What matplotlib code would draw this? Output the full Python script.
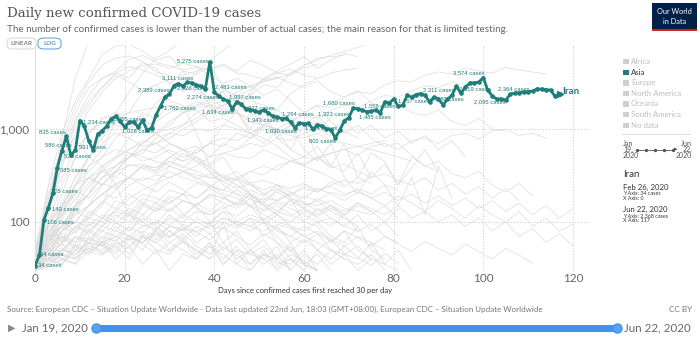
import numpy as np
import matplotlib
matplotlib.use("Agg")
import matplotlib.pyplot as plt
from matplotlib.patches import FancyBboxPatch, Rectangle

# Iran, daily new confirmed cases, day 0 = Feb 26 2020 (first day with 30+)
iran_cases = [
    34, 44, 106, 143, 205, 385, 586, 835, 523, 591,
    1234, 1076, 743, 595, 881, 958, 1075, 1289, 1365, 1209,
    1053, 1178, 1192, 1046, 1237, 966, 1028, 1411, 1762, 2206,
    2389, 2926, 3076, 2901, 3186, 3111, 2987, 2875, 2715, 5275,
    2483, 2274, 2089, 1997, 1634, 1972, 1837, 1657, 1617, 1574,
    1512, 1606, 1499, 1374, 1343, 1294, 1297, 1194, 1030, 1168,
    1134, 1153, 991, 1112, 1073, 1006, 976, 802, 976, 1223,
    1323, 1680, 1650, 1600, 1529, 1556, 1600, 1485, 1958, 1900,
    2102, 1757, 1790, 2294, 2200, 2346, 2400, 2300, 1965, 2200,
    2100, 1820, 2080, 2311, 2886, 2420, 2819, 3117, 3134, 3200,
    3574, 2596, 2269, 2095, 2100, 2043, 2364, 2430, 2450, 2500,
    2520, 2560, 2700, 2680, 2650, 2614, 2250, 2368]

# which points get a "N cases" label, and where the text sits (pixels from the point)
label_days = [0, 1, 2, 3, 4, 5, 6, 7, 8, 9, 10, 18, 26, 28, 30, 31, 35, 39, 40, 41,
              43, 44, 46, 54, 55, 58, 60, 67, 70, 71, 75, 77, 81, 92, 93, 96, 100, 103, 106]
label_dx = [3, 1, 3, 3.6, -2, 2.6, -17, -27.4, -7, 3.7, 3.2, -2.5, -29.6, 3, -31.5, 3, -29.9, -32.8, 0.7, -31.8,
            1.7, -30.3, 1.8, -30.1, 0.9, -30, 1, -26.4, -30.8, -30.3, -7.2, -21.2, 0, -15.4, -28.9, -6.4, -30.3, -22.7, -12.2]
label_dy = [0, 1, -2.4, -2.4, 2, -2.5, 4.6, 3.3, -1.5, 3.2, -1.5, -2.6, -3.1, -1.9, 3.8, -2.4, 5.2, 0.8, 5.3, -1.2,
            4.1, -2.8, -3.6, -2.2, 4.6, -3.2, -4.1, -3.1, 4.4, 5, 5.2, -4, 5.2, 0.4, 5.2, -1.9, 4.6, -2.9, 5.3]

# other countries, one value every 3 days from day 0
gray_step = 3
other_countries = [
    [45, 180, 560, 1250, 2300, 3500, 4200, 5600, 6200, 5200, 4800, 4300, 4600, 3800, 3100, 3500, 2900, 2300, 2700,
     2000, 1500, 1800, 1200, 900, 1100, 800, 650, 700, 520, 400, 450, 330, 300, 350, 250, 210, 260, 190],
    [35, 250, 900, 2000, 3500, 6300, 7800, 8100, 6900, 5500, 6100, 4200, 3900, 4700, 2900, 1900, 2400, 1300, 800,
     1100, 600, 450, 700, 300, 200, 350, 250, 150, 300, 120, 400, 180],
    [40, 160, 700, 1800, 3200, 4900, 5800, 6100, 5300, 4100, 3800, 2500, 3000, 1800, 1400, 1600, 900, 700, 950,
     600, 500, 650, 400, 350, 550, 300, 420, 250, 380, 600, 350],
    [30, 120, 400, 1100, 1800, 2800, 4000, 3500, 5200, 4500, 3000, 4200, 2800, 2100, 2500, 1500, 1000, 1600, 800,
     600, 1100, 500, 400, 700, 300, 550, 450, 250, 500, 400, 350],
    [45, 150, 400, 900, 1600, 2500, 3500, 4200, 4800, 5000, 4500, 5100, 4700, 4300, 4800, 4000, 3800, 3400, 3600,
     3100, 2800, 3300, 2500, 2200, 2600, 1900, 1700, 2000, 1500, 1400, 1600, 1200, 1100, 1300, 1000, 950],
    [30, 60, 90, 75, 110, 150, 350, 500, 550, 800, 900, 1100, 1300, 1600, 1800, 2300, 2600, 3300, 3500, 3900,
     4800, 5500, 6200, 6800, 7500, 8500, 9500, 11000],
    [35, 60, 150, 250, 350, 500, 800, 1100, 1200, 1900, 2500, 3000, 4000, 5500, 7000, 9000, 12000],
    [30, 90, 160, 300, 500, 900, 1500, 2500, 4000, 5800, 7000, 9000, 10500, 11000],
    [30, 45, 80, 130, 200, 300, 400, 500, 700, 900, 1200, 1500, 1800, 2100, 2600, 3000, 2800, 3400, 4000, 3800,
     4500, 5000],
    [35, 70, 90, 150, 400, 600, 1200, 1500, 2500, 3000, 3400, 3800, 4200, 4500, 5000, 4200, 5500, 4800, 4000,
     4400, 3800, 3500],
    [40, 70, 150, 250, 300, 350, 400, 550, 450, 500, 600, 500, 550, 700, 1100, 1500, 2500, 3500, 4200, 5000,
     6000, 4500, 5500, 6500, 6000],
    [40, 100, 150, 200, 300, 250, 350, 500, 600, 700, 800, 1000, 1200, 1500, 1800, 2100, 2300, 3000, 2800, 4000,
     4800, 5800, 6000, 6200],
    [30, 80, 120, 150, 200, 400, 500, 800, 1100, 1200, 1500, 1700, 1800, 1900, 2600, 2300, 2000, 1800, 1600,
     2400, 3000, 3500, 4000, 4300, 4500],
    [40, 60, 140, 200, 300, 400, 500, 600, 700, 900, 1000, 1100, 1500, 1800, 2000, 2500, 2900, 3200, 3500],
    [50, 250, 600, 1500, 2800, 3500, 4000, 4700, 4300, 3800, 3200, 2800, 2500, 2200, 1700, 1500, 1200, 1100,
     1000, 900, 1000, 1200, 1000, 1100],
    [30, 150, 800, 3500, 9000, 15000],
    [35, 100, 250, 500, 900, 1300, 1400, 1500, 1600, 1700, 1800, 1500, 1600, 1200, 1300, 1100, 900, 800, 650,
     500, 400, 350, 300, 250],
    [35, 90, 200, 500, 900, 1300, 1500, 1200, 1400, 900, 700, 600, 500, 350, 300, 250, 200, 150, 120, 90, 80,
     100, 70, 60, 90, 50, 40],
    [40, 150, 300, 600, 900, 1200, 1100, 1000, 1200, 900, 700, 600, 450, 400, 300, 250, 200, 150, 120, 180, 100,
     90, 60, 80, 50, 40],
    [40, 100, 60, 150, 200, 300, 400, 500, 600, 550, 700, 600, 650, 500, 700, 600, 800, 1000, 900, 1100, 1200,
     1000, 1300],
    [35, 50, 80, 100, 150, 250, 350, 500, 700, 900, 1100, 1500, 1700, 1800, 1600, 1500, 1300, 1100, 1000],
    [30, 55, 80, 120, 150, 200, 180, 250, 300, 280, 350, 300, 270, 250, 220, 200, 180, 150, 160, 140, 120, 100,
     110, 90, 80, 95, 70, 60],
    [40, 70, 90, 140, 200, 300, 350, 400, 420, 380, 450, 400, 350, 300, 320, 280, 250, 200, 230, 180, 160, 150,
     170, 140, 130, 120, 150, 110],
    [35, 40, 60, 90, 110, 100, 130, 180, 220, 260, 300, 350, 400, 500, 550, 600, 700, 650, 800, 750, 900, 1000,
     850, 950, 800],
    [30, 50, 45, 70, 65, 90, 120, 100, 150, 130, 160, 200, 180, 240, 220, 300, 350, 320, 400, 450, 420, 500, 550,
     600, 650, 700, 750],
    [50, 90, 150, 250, 400, 500, 600, 550, 500, 450, 400, 350, 300, 250, 200, 180, 150, 120, 100, 90, 70, 60, 50,
     40, 35, 45, 30],
    [30, 40, 35, 50, 60, 55, 80, 70, 90, 85, 110, 100, 130, 120, 140, 160, 150, 180, 170, 200, 230, 210, 250,
     280, 260, 300],
    [45, 60, 100, 80, 130, 110, 170, 150, 200, 180, 160, 200, 140, 120, 150, 100, 90, 110, 80, 70, 60, 75, 50,
     45, 40, 60, 35, 50, 30],
    [35, 80, 120, 200, 300, 250, 350, 300, 400, 350, 450, 380, 500, 420, 550, 500, 480, 600, 520, 450, 400, 500,
     380, 420, 350, 300, 330, 280, 250, 300, 220, 260, 200, 240, 180, 230, 170],
    [30, 45, 70, 60, 100, 90, 140, 120, 180, 160, 220, 200, 260, 240, 300, 280, 350, 400, 360, 450, 500, 470,
     550, 600, 520, 650, 700, 600, 750, 800, 700, 850, 900, 780, 950, 1000, 850, 900, 800],
    [30, 40, 35, 50, 45, 60, 40, 55, 35, 50, 30, 45, 40, 60, 35, 50, 45, 40, 55, 30, 45, 35, 50, 40],
    [35, 55, 70, 50, 80, 60, 90, 70, 60, 80, 50, 70, 45, 60, 40, 55, 35, 50, 30, 40, 35, 30],
    [32, 45, 60, 40, 70, 55, 45, 65, 50, 80, 60, 75, 55, 45, 60, 40, 50, 35, 45, 30],
    [40, 60, 80, 100, 90, 120, 100, 80, 110, 90, 70, 85, 60, 75, 50, 65, 45, 55, 40, 35, 50, 30],
    [30, 35, 45, 40, 55, 50, 65, 45, 70, 60, 80, 65, 90, 75, 100, 85, 110, 95, 120, 100, 130, 115, 140, 120,
     150, 130],
    [45, 70, 55, 90, 75, 110, 95, 130, 100, 80, 120, 90, 70, 100, 60, 80, 50, 65, 40, 55, 35, 45, 30],
    [30, 50, 40, 35, 60, 45, 55, 40, 70, 50, 45, 65, 40, 55, 35, 50, 30, 45, 35, 40, 30, 50, 35, 45, 30, 40,
     35, 30],
    [38, 65, 90, 130, 110, 170, 140, 200, 160, 130, 180, 120, 150, 100, 130, 90, 110, 70, 90, 60, 75, 50, 65,
     45, 55, 40],
    [33, 50, 75, 60, 95, 80, 110, 140, 120, 160, 130, 170, 150, 190, 160, 140, 180, 130, 150, 120, 100, 140,
     110, 90, 120, 80, 100, 70],
    [30, 42, 38, 55, 48, 62, 52, 70, 58, 45, 60, 50, 40, 55, 45, 35, 50, 40, 32, 45, 38, 30],
    [36, 48, 70, 55, 85, 65, 100, 80, 120, 95, 140, 110, 160, 130, 180, 150, 200, 170, 220, 190, 250, 210, 270,
     240, 300, 260],
    [30, 38, 52, 44, 66, 58, 48, 72, 60, 85, 68, 95, 78, 64, 88, 70, 56, 75, 60, 48, 65, 50, 40, 55, 42, 34,
     46, 36],
    [30, 40, 50, 45, 60, 55, 70, 65, 80, 70, 90, 85, 100, 95, 110, 100, 120, 105, 130, 115, 140, 120, 150, 130,
     160, 140, 120, 150, 110, 130, 100, 120, 90, 110, 80, 100, 70, 85, 60, 75, 55],
    [30, 150, 450, 1200, 2000, 2800, 3800, 3200, 2600, 3000, 2000, 1800, 900, 400, 500, 300, 200, 100, 60, 40, 30],
    [45, 200, 600, 800, 500, 400, 250, 120, 90, 100, 80, 60, 50, 40, 100, 35, 30, 45, 40, 60, 35, 30],
    [30, 40, 35, 55, 45, 60, 70, 90, 150, 250, 400, 550, 450, 350, 250, 200, 150, 100, 70, 50, 35, 30],
    [35, 60, 90, 120, 150, 200, 250, 300, 280, 320, 300, 350, 320, 300, 280, 300, 260, 280, 250, 230, 260, 220,
     240, 200, 220, 180, 210, 170, 200, 160, 190, 150, 180, 140, 170, 130, 160, 120, 150, 110, 140],
    [30, 50, 80, 100, 150, 200, 260, 300, 400, 350, 500, 450, 600, 700, 650, 900, 800, 1100, 1300, 1200, 1500,
     1800, 1700, 2200, 2500, 2400, 3000, 3300, 3200, 3800, 4100, 3900, 4500, 4200, 4000, 4600, 4300, 4100, 3900],
    [30, 35, 50, 70, 60, 90, 80, 120, 100, 140, 130, 170, 150, 200, 180, 160, 220, 190, 250, 210, 180, 230, 200,
     170, 210, 180, 150, 190, 160, 130, 170, 140, 110, 150, 120, 100, 130, 90, 110, 80, 95],
    [30, 70, 140, 300, 500, 800, 1200, 1000, 1500, 1300, 1800, 1600, 2000, 1700, 1400, 1800, 1500, 1200, 1600,
     1300, 1100, 1400, 1000, 1200, 900, 1100, 800, 950, 700, 850, 600, 750, 500],
    [30, 45, 65, 90, 80, 110, 130, 115, 160, 140, 190, 170, 150, 200, 180, 220, 190, 160, 210, 170, 140, 180,
     150, 120, 160, 130, 100, 140],
    [34, 60, 110, 180, 260, 350, 300, 420, 380, 330, 400, 350, 290, 330, 270, 230, 260, 200, 170, 210, 160, 130,
     150, 110, 90],
    [30, 36, 44, 40, 52, 47, 58, 66, 60, 75, 68, 85, 78, 92, 84, 100, 90, 80, 95, 85, 70, 80, 65, 55, 70, 60, 50],
    [41, 75, 130, 220, 180, 260, 230, 300, 250, 210, 270, 220, 180, 230, 190, 150, 200, 160, 130, 170, 140, 110,
     90, 120, 80],
    [30, 33, 40, 36, 48, 44, 60, 52, 75, 64, 90, 80, 110, 95, 130, 115, 150, 135, 170, 150, 190, 170, 210, 190,
     230, 200, 250, 220],
    [37, 52, 48, 68, 58, 80, 70, 56, 72, 60, 48, 62, 50, 40, 54, 44, 35, 46, 38, 31],
    [30, 60, 120, 250, 500, 700, 900, 800, 650, 700, 550, 450, 500, 380, 300, 350, 260, 220, 250, 180, 150, 170,
     130, 110],
    [30, 40, 60, 80, 120, 160, 220, 300, 400, 380, 500, 600, 550, 700, 800, 750, 900, 1100, 1000, 1200, 1400,
     1300, 1600, 1800, 1700, 2000, 2300, 2200, 2600, 2900, 2800, 3200, 3000],
    [35, 45, 40, 58, 50, 70, 62, 88, 76, 105, 92, 120, 100, 85, 110, 95, 80, 100, 85, 70, 90, 75, 62, 80, 68, 55,
     70, 58, 48, 62, 52, 44, 58, 48, 40, 52, 44, 36],
    [30, 55, 90, 150, 240, 360, 480, 600, 750, 700, 900, 850, 1000, 950, 1100, 1000, 900, 1050, 950, 850, 800,
     900, 750, 700, 650, 600, 550, 500, 450],
]

continents = ["Africa", "Asia", "Europe", "North America", "Oceania", "South America", "No data"]
x_ticks = [0, 20, 40, 60, 80, 100, 120]

teal = "#1f7e7a"
ui_font = ["Lato", "DejaVu Sans"]
W, H = 700, 340


def fx(px):
    return px / W


def fy(py):
    return 1 - py / H


fig = plt.figure(figsize=(7, 3.4), dpi=100)
fig.patch.set_facecolor("white")

ax = fig.add_axes([fx(35), fy(272), 555 / W, (272 - 45) / H])
ax.set_yscale("log")
ax.set_xlim(0, 123.8)
ax.set_ylim(29, 8000)

for series in other_countries:
    ax.plot(np.arange(len(series)) * gray_step, series, color="#dcdcdc", lw=0.5, zorder=2)

days = np.arange(len(iran_cases))
ax.plot(days, iran_cases, color=teal, lw=2.0, marker="o", ms=2.3, zorder=5)
ax.plot(days[-1], iran_cases[-1], marker=">", ms=4.5, color=teal, zorder=6)

for d, dx, dy in zip(label_days, label_dx, label_dy):
    ax.annotate(f"{iran_cases[d]:,} cases", xy=(d, iran_cases[d]), xytext=(dx, dy),
                textcoords="offset pixels", fontsize=4.2, color=teal, ha="left", va="center",
                family="Liberation Sans", zorder=7)
ax.annotate("Iran", xy=(days[-1], iran_cases[-1]), xytext=(3, 3), textcoords="offset pixels",
            fontsize=7, color=teal, ha="left", va="center", family=ui_font, fontweight="bold")

ax.set_xticks(x_ticks)
ax.set_xticklabels([str(t) for t in x_ticks])
ax.set_yticks([100, 1000])
ax.set_yticklabels(["100", "1,000"])
ax.yaxis.set_minor_locator(matplotlib.ticker.NullLocator())
ax.tick_params(length=0, labelsize=8.5, labelcolor="#666")
ax.tick_params(axis="x", pad=1)
ax.tick_params(axis="y", pad=4)
for lab in ax.get_xticklabels() + ax.get_yticklabels():
    lab.set_family(ui_font)
ax.grid(True, which="major", color="#c8c8c8", lw=0.6, linestyle=(0, (1.5, 2)))
ax.set_axisbelow(True)
for side in ["top", "right", "bottom"]:
    ax.spines[side].set_visible(False)
ax.spines["left"].set_color("#dcdcdc")
ax.spines["left"].set_linewidth(0.8)

# header
fig.text(fx(7), fy(13), "Daily new confirmed COVID-19 cases", family="DejaVu Serif",
         fontsize=9.6, color="#555", va="center", ha="left")
fig.text(fx(7), fy(29), "The number of confirmed cases is lower than the number of actual cases; "
         "the main reason for that is limited testing.", family=ui_font, fontsize=7.1,
         color="#666", va="center", ha="left")

fig.patches.append(FancyBboxPatch((fx(7), fy(49)), fx(29), 11 / H, boxstyle="round,pad=0,rounding_size=0.01",
                                  transform=fig.transFigure, fc="white", ec="#cfcfcf", lw=0.6))
fig.patches.append(FancyBboxPatch((fx(38), fy(49)), fx(23), 11 / H, boxstyle="round,pad=0,rounding_size=0.01",
                                  transform=fig.transFigure, fc="white", ec="#5b9bd5", lw=0.7))
fig.text(fx(21.5), fy(43.5), "LINEAR", family=ui_font, fontsize=4.6, color="#555", ha="center", va="center")
fig.text(fx(49.5), fy(43.5), "LOG", family=ui_font, fontsize=4.6, color="#3a6fb0", ha="center", va="center")

# logo
fig.patches.append(Rectangle((fx(652), fy(31)), fx(45), 28 / H, transform=fig.transFigure,
                             fc="#002147", ec="none"))
fig.patches.append(Rectangle((fx(652), fy(31)), fx(45), 2 / H, transform=fig.transFigure,
                             fc="#ce261e", ec="none"))
fig.text(fx(674.5), fy(11), "Our World", family=ui_font, fontsize=5.3, color="white", ha="center", va="center")
fig.text(fx(674.5), fy(21), "in Data", family=ui_font, fontsize=5.3, color="white", ha="center", va="center")

# continent legend
legend_y = [61.5, 72.5, 83, 93.5, 104, 114.5, 125.5]
for name, py in zip(continents, legend_y):
    active = name == "Asia"
    fig.patches.append(Rectangle((fx(623), fy(py + 2.8)), fx(5.6), 5.6 / H, transform=fig.transFigure,
                                 fc=teal if active else "#cfcfcf", ec="none"))
    fig.text(fx(631), fy(py), name, family=ui_font, fontsize=5.6,
             color="#333" if active else "#bdbdbd", ha="left", va="center")
fig.lines.append(plt.Line2D([fx(622), fx(690)], [fy(134), fy(134)], transform=fig.transFigure,
                            color="#ddd", lw=0.7))

for txt, py in zip(["Jan", "19,", "2020"], [143, 149.5, 156]):
    fig.text(fx(623), fy(py), txt, family=ui_font, fontsize=5.0, color="#555", ha="left", va="center")
for txt, py in zip(["Jun", "22,", "2020"], [143, 149.5, 156]):
    fig.text(fx(692), fy(py), txt, family=ui_font, fontsize=5.0, color="#555", ha="right", va="center")
fig.lines.append(plt.Line2D([fx(637), fx(673)], [fy(149.5)] * 2, transform=fig.transFigure,
                            color="#555", lw=0.6, marker="o", ms=1.4, markevery=[0, 1]))
fig.lines.append(plt.Line2D([fx(646), fx(655), fx(664)], [fy(149.5)] * 3, transform=fig.transFigure,
                            color="#555", lw=0, marker="o", ms=1.4))
fig.text(fx(676), fy(149.5), "▸", family="DejaVu Sans", fontsize=5, color="#555", ha="center", va="center")

fig.text(fx(623), fy(175), "Iran", family=ui_font, fontsize=7, color="#333", ha="left", va="center")
fig.text(fx(623), fy(187), "Feb 26, 2020", family=ui_font, fontsize=5.6, color="#333", ha="left", va="center")
fig.text(fx(623), fy(193.5), "Y Axis: 34 cases", family=ui_font, fontsize=3.9, color="#333", ha="left", va="center")
fig.text(fx(623), fy(198.5), "X Axis: 0", family=ui_font, fontsize=3.9, color="#333", ha="left", va="center")
fig.text(fx(623), fy(209), "Jun 22, 2020", family=ui_font, fontsize=5.6, color="#333", ha="left", va="center")
fig.text(fx(623), fy(215.5), "Y Axis: 2,368 cases", family=ui_font, fontsize=3.9, color="#333", ha="left", va="center")
fig.text(fx(623), fy(220.5), "X Axis: 117", family=ui_font, fontsize=3.9, color="#333", ha="left", va="center")

# axis title and footer
fig.text(fx(305), fy(290), "Days since confirmed cases first reached 30 per day", family=ui_font,
         fontsize=5.5, color="#333", ha="center", va="center")
fig.text(fx(7), fy(309), "Source: European CDC \u2013 Situation Update Worldwide - Data last updated 22nd Jun, "
         "18:03 (GMT+08:00), European CDC \u2013 Situation Update Worldwide", family=ui_font,
         fontsize=5.75, color="#777", ha="left", va="center")
fig.text(fx(692), fy(309), "CC BY", family=ui_font, fontsize=5.9, color="#777", ha="right", va="center")

# timeline slider
fig.text(fx(12), fy(328), "▶", family="DejaVu Sans", fontsize=7, color="#888", ha="center", va="center")
fig.text(fx(22), fy(328), "Jan 19, 2020", family=ui_font, fontsize=8.3, color="#666", ha="left", va="center")
fig.text(fx(624), fy(328), "Jun 22, 2020", family=ui_font, fontsize=8.3, color="#666", ha="left", va="center")
fig.lines.append(plt.Line2D([fx(96), fx(616)], [fy(328)] * 2, transform=fig.transFigure,
                            color="#3f93ee", lw=5, solid_capstyle="round"))
fig.lines.append(plt.Line2D([fx(96), fx(617)], [fy(328)] * 2, transform=fig.transFigure,
                            color="#3f93ee", lw=0, marker="o", ms=6.5, mfc="#5aa3f0", mec="#3f93ee"))

fig.savefig("out.png", dpi=100)
